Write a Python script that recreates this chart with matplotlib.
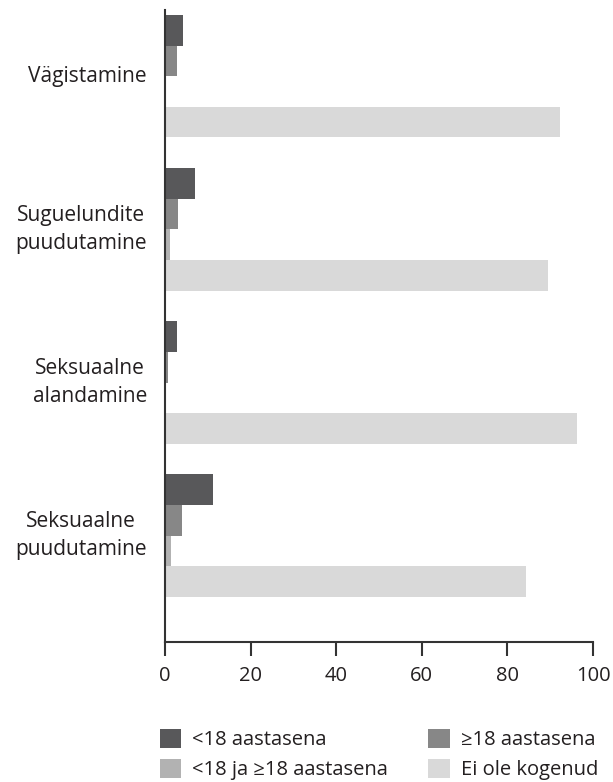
import matplotlib
matplotlib.use("Agg")
import matplotlib.pyplot as plt
from matplotlib.patches import Patch

plt.rcParams['font.family'] = ['Open Sans', 'DejaVu Sans']

categories = ["Vägistamine", "Suguelundite\npuudutamine", "Seksuaalne\nalandamine", "Seksuaalne\npuudutamine"]
series_names = ["<18 aastasena", "≥18 aastasena", "<18 ja ≥18 aastasena", "Ei ole kogenud"]
under18 = [4.2, 7.1, 2.9, 11.2]
over18 = [2.9, 3.0, 0.6, 4.0]
both = [0.3, 1.2, 0.3, 1.4]
never = [92.3, 89.5, 96.3, 84.3]
xticks = [0, 20, 40, 60, 80, 100]

series = [under18, over18, both, never]
colors = ["#58585a", "#878787", "#b2b2b2", "#d9d9d9"]

fig = plt.figure(figsize=(6.13, 7.82), dpi=100)
ax = fig.add_axes([165/613, 140/782, (593-165)/613, (642-10)/782])

group_step = 5
for j, (vals, col) in enumerate(zip(series, colors)):
    ys = [i*group_step + j for i in range(len(categories))]
    ax.barh(ys, vals, height=1.0, color=col, edgecolor='none', label=series_names[j])

ax.set_ylim(19.97, -0.66)
ax.set_xlim(0, 100)
ax.set_xticks(xticks)
ax.set_xticklabels([str(t) for t in xticks], fontsize=14.5, color='#231f20')
ax.tick_params(axis='x', direction='out', length=10, width=1.5, color='#333333', pad=7)
ax.set_yticks([])
for s in ['top', 'right']:
    ax.spines[s].set_visible(False)
for s in ['left', 'bottom']:
    ax.spines[s].set_color('#333333')
    ax.spines[s].set_linewidth(1.5)

for i, cat in enumerate(categories):
    yc = i*group_step + 1.5
    ax.text(-4.2, yc, cat, ha='right', va='center', multialignment='center',
            fontsize=15, color='#231f20', linespacing=1.45)

handles = [Patch(facecolor=c, edgecolor='none') for c in colors]
order = [0, 2, 1, 3]
leg = fig.legend([handles[k] for k in order], [series_names[k] for k in order],
                 ncol=2, loc='upper left', bbox_to_anchor=(160/613, 1-729/782),
                 frameon=False, fontsize=14.5, handlelength=1.05, handleheight=1.05,
                 handletextpad=0.55, columnspacing=2.0, labelspacing=0.45,
                 borderaxespad=0, borderpad=0)
for t in leg.get_texts():
    t.set_color('#231f20')

fig.savefig("out.png", dpi=100)
